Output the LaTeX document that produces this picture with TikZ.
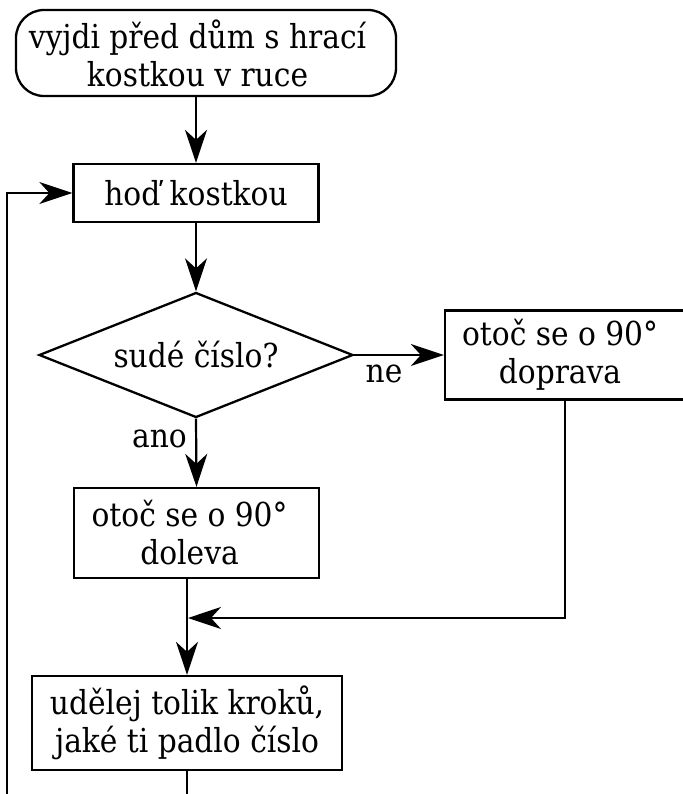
\documentclass[tikz,border=0pt]{standalone}
\usepackage{fontspec}
\setmainfont{DejaVu Serif Condensed}
\usetikzlibrary{arrows.meta,shapes.geometric}

\begin{document}
\begin{tikzpicture}[x=1pt,y=-1pt,
  every node/.style={font=\fontsize{33}{38}\selectfont},
  box/.style={draw, line width=2.3pt, inner sep=0pt, align=center},
  decision/.style={draw, diamond, line width=2.3pt, aspect=2.512, inner sep=0pt},
  arr/.style={line width=2.2pt, -{Stealth[length=33pt,width=22pt,inset=10pt]}},
  label/.style={inner sep=0pt}]

\useasboundingbox (0,0) rectangle (682,794);

% process boxes
\node[box, rounded corners=28pt, minimum width=380, minimum height=86] (start) at (206,53)
  {vyjdi před dům s hrací\hspace*{17pt}\\kostkou v ruce\hspace*{17pt}};
\node[box, minimum width=245, minimum height=58] (throw) at (196,193) {hoď kostkou};
\node[decision, minimum width=314, minimum height=125] (even) at (196,355) {sudé číslo?};
\node[box, minimum width=254, minimum height=89] (right) at (572,355)
  {otoč se o 90°\hspace*{24pt}\\doprava\hspace*{24pt}};
\node[box, minimum width=245, minimum height=90] (left) at (196.5,533)
  {otoč se o 90°\hspace*{14pt}\\doleva\hspace*{14pt}};
\node[box, minimum width=310, minimum height=94] (walk) at (187,723)
  {udělej tolik kroků,\\jaké ti padlo číslo};

% branch labels
\node[label, anchor=base] (ne) at (384,382) {ne};
\node[label, anchor=base east] (ano) at (187,447) {ano};

% junction points
\coordinate (merge) at (188,618);
\coordinate (loopx) at (7,820);

% connectors
\draw[arr] (throw.north |- start.south) -- (throw.north);
\draw[arr] (throw.south) -- (even.north);
\draw[arr] (even.east) -- (right.west);
\draw[arr] (even.south) -- (left.north);
\draw[arr] ([xshift=121pt]right.south west) |- (merge);
\draw[arr] (walk.north |- left.south) -- (walk.north);
\draw[arr] (walk.south) |- (loopx) |- (throw.west);
\end{tikzpicture}
\end{document}
